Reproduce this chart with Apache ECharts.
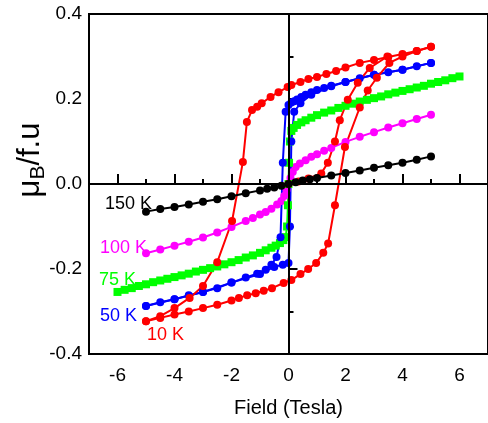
<!DOCTYPE html>
<html lang="en">
  <head>
    <meta charset="UTF-8" />
    <title>hysteresis</title>
    <script src="https://cdn.jsdelivr.net/npm/echarts@6/dist/echarts.min.js"></script>
    <style>
      * {
        margin: 0;
        padding: 0;
      }
    </style>
  </head>
  <body>
    <div id="charts" style="width: 488px; height: 423px"></div>
    <script>
      // field (T), moment (muB/f.u)
      var k150 = [
        [-5, -0.065], [-4.5, -0.059], [-4, -0.054], [-3.5, -0.048], [-3, -0.042],
        [-2.5, -0.036], [-2, -0.029], [-1.5, -0.022], [-1, -0.015], [-0.75, -0.011],
        [-0.5, -0.008], [-0.25, -0.004], [0, 0], [0.25, 0.004], [0.5, 0.008],
        [0.75, 0.011], [1, 0.014], [1.5, 0.02], [2, 0.026], [2.5, 0.032],
        [3, 0.038], [3.5, 0.044], [4, 0.05], [4.5, 0.057], [5, 0.065],
      ];
      var k100 = [
        [-5, -0.163], [-4.5, -0.154], [-4, -0.145], [-3.5, -0.136], [-3, -0.126],
        [-2.5, -0.114], [-2, -0.101], [-1.5, -0.087], [-1.25, -0.08], [-1, -0.072],
        [-0.8, -0.066], [-0.6, -0.058], [-0.4, -0.048], [-0.25, -0.04], [-0.15, -0.028],
        [-0.07, -0.014], [0, 0], [0.07, 0.014], [0.15, 0.028], [0.25, 0.04],
        [0.4, 0.048], [0.6, 0.056], [0.8, 0.064], [1, 0.07], [1.25, 0.078],
        [1.5, 0.085], [2, 0.099], [2.5, 0.111], [3, 0.122], [3.5, 0.133],
        [4, 0.143], [4.5, 0.153], [5, 0.163],
      ];
      var k75 = [
        [-6, -0.254], [-5.75, -0.249], [-5.5, -0.245], [-5.25, -0.24], [-5, -0.236],
        [-4.75, -0.231], [-4.5, -0.227], [-4.25, -0.223], [-4, -0.219], [-3.75, -0.215],
        [-3.5, -0.211], [-3.25, -0.206], [-3, -0.202], [-2.75, -0.198], [-2.5, -0.194],
        [-2.25, -0.189], [-2, -0.184], [-1.75, -0.179], [-1.5, -0.173], [-1.25, -0.168],
        [-1, -0.162], [-0.8, -0.156], [-0.6, -0.15], [-0.45, -0.145], [-0.3, -0.139],
        [-0.18, -0.132], [-0.1, -0.125], [-0.05, -0.1], [-0.02, -0.05], [0, 0],
        [0.02, 0.05], [0.05, 0.1], [0.1, 0.125], [0.18, 0.132], [0.3, 0.139],
        [0.45, 0.145], [0.6, 0.15], [0.8, 0.156], [1, 0.162], [1.25, 0.168],
        [1.5, 0.173], [1.75, 0.179], [2, 0.184], [2.25, 0.189], [2.5, 0.194],
        [2.75, 0.198], [3, 0.202], [3.25, 0.206], [3.5, 0.211], [3.75, 0.215],
        [4, 0.219], [4.25, 0.223], [4.5, 0.227], [4.75, 0.231], [5, 0.236],
        [5.25, 0.24], [5.5, 0.244], [5.75, 0.249], [6, 0.253],
      ];
      var k50Down = [
        [5, 0.285], [4.5, 0.277], [4, 0.269], [3.5, 0.263], [3, 0.257],
        [2.5, 0.249], [2, 0.24], [1.5, 0.231], [1.25, 0.226], [1, 0.221],
        [0.8, 0.216], [0.6, 0.21], [0.45, 0.205], [0.3, 0.199], [0.2, 0.195],
        [0.1, 0.192], [0, 0.186], [-0.1, 0.17], [-0.2, 0.05], [-0.28, -0.125],
        [-0.42, -0.172], [-0.6, -0.19], [-0.8, -0.202], [-1.1, -0.211], [-1.5, -0.22],
        [-2, -0.232], [-2.5, -0.245], [-3, -0.254], [-3.5, -0.262], [-4, -0.271],
        [-4.5, -0.278], [-5, -0.287],
      ];
      var k50Up = [
        [-5, -0.287], [-4, -0.271], [-3, -0.254], [-2, -0.232], [-1, -0.212],
        [-0.5, -0.195], [-0.2, -0.19], [0, -0.186], [0.05, -0.1], [0.1, 0.1],
        [0.2, 0.17], [0.42, 0.19], [0.8, 0.21], [1.5, 0.23], [2, 0.24],
        [3, 0.257], [4, 0.269], [5, 0.285],
      ];
      var k10Down = [
        [5, 0.323], [4.5, 0.313], [4, 0.306], [3.5, 0.299], [3, 0.292],
        [2.5, 0.285], [2, 0.274], [1.67, 0.266], [1.33, 0.259], [1, 0.252],
        [0.7, 0.247], [0.42, 0.24], [0.1, 0.233], [-0.03, 0.228], [-0.35, 0.216],
        [-0.63, 0.205], [-0.94, 0.19], [-1.1, 0.182], [-1.28, 0.174], [-1.46, 0.146],
        [-1.6, 0.052], [-1.98, -0.087], [-2.5, -0.184], [-3, -0.24], [-3.47, -0.268],
        [-4, -0.292], [-4.5, -0.311], [-5, -0.323],
      ];
      var k10Up = [
        [-5, -0.323], [-4.5, -0.315], [-4, -0.307], [-3.5, -0.3], [-3, -0.292],
        [-2.5, -0.284], [-2, -0.274], [-1.74, -0.268], [-1.45, -0.262], [-1.15, -0.257],
        [-0.87, -0.251], [-0.58, -0.245], [-0.17, -0.233], [0.1, -0.226], [0.42, -0.212],
        [0.69, -0.2], [0.97, -0.186], [1.22, -0.162], [1.39, -0.14], [1.63, -0.05],
        [1.98, 0.087], [2.5, 0.18], [2.78, 0.22], [3.1, 0.25], [3.54, 0.285],
        [4, 0.3], [4.5, 0.313], [5, 0.323],
      ];
      var k10Virgin = [
        [0, 0], [0.35, 0.006], [0.7, 0.013], [1.15, 0.025], [1.38, 0.05],
        [1.63, 0.1], [1.8, 0.15], [2.08, 0.198], [2.43, 0.238], [2.85, 0.273],
        [3.47, 0.3],
      ];
      var xLabels = [-6, -4, -2, 0, 2, 4, 6];
      var yLabels = [-0.4, -0.2, 0, 0.2, 0.4];

      var myEcharts = echarts.init(document.getElementById("charts"));
      var font = "Liberation Sans";

      function line(data, color, symbol, size) {
        return {
          type: "line",
          data: data,
          xAxisIndex: 0,
          yAxisIndex: 0,
          symbol: symbol || "circle",
          symbolSize: size || 8,
          showSymbol: true,
          showAllSymbol: true,
          animation: false,
          lineStyle: { color: color, width: 2 },
          itemStyle: { color: color, borderWidth: 0 },
        };
      }

      var series = [
        line(k150, "#000000"),
        line(k100, "#ff00ff"),
        line(k75, "#00ff00", "rect", 8),
        line(k50Down, "#0000ff"),
        line(k50Up, "#0000ff"),
        line(k10Down, "#ff0000"),
        line(k10Up, "#ff0000"),
        line(k10Virgin, "#ff0000"),
      ];
      // zero lines through the origin
      series[0].markLine = {
        silent: true,
        symbol: "none",
        label: { show: false },
        animation: false,
        lineStyle: { color: "#000", width: 2, type: "solid" },
        data: [{ xAxis: 0 }, { yAxis: 0 }],
      };
      series[0].z = 5;

      function kText(txt, x, y, color) {
        return {
          type: "text",
          left: x,
          top: y,
          style: { text: txt, fill: color, font: "18px " + font },
        };
      }

      var options = {
        animation: false,
        grid: {
          left: 89,
          top: 14,
          right: -3,
          bottom: 69,
          show: true,
          borderColor: "#000",
          borderWidth: 2,
        },
        xAxis: [
          {
            type: "value",
            min: -7,
            max: 7,
            interval: 1,
            name: "Field (Tesla)",
            nameLocation: "middle",
            nameGap: 44,
            nameTextStyle: { color: "#000", fontSize: 20, fontFamily: font },
            axisLine: { lineStyle: { color: "#000", width: 2 } },
            axisTick: { inside: true, length: 10, customValues: xLabels, lineStyle: { color: "#000", width: 2 } },
            axisLabel: { customValues: xLabels, color: "#000", fontSize: 19, fontFamily: font, margin: 12 },
            splitLine: { show: false },
          },
          {
            type: "value",
            position: "bottom",
            min: -7,
            max: 7,
            interval: 1,
            axisLine: { show: false },
            axisTick: { inside: true, length: 5, lineStyle: { color: "#000", width: 2 } },
            axisLabel: { show: false },
            splitLine: { show: false },
          },
        ],
        yAxis: [
          {
            type: "value",
            min: -0.4,
            max: 0.4,
            interval: 0.1,
            axisLine: { show: true, lineStyle: { color: "#000", width: 2 } },
            axisTick: { inside: true, length: 9, customValues: yLabels, lineStyle: { color: "#000", width: 2 } },
            axisLabel: {
              customValues: yLabels,
              color: "#000",
              fontSize: 19,
              fontFamily: font,
              margin: 7,
              formatter: function (v) {
                return v.toFixed(1);
              },
            },
            splitLine: { show: false },
          },
          {
            type: "value",
            position: "left",
            min: -0.4,
            max: 0.4,
            interval: 0.1,
            axisLine: { show: false },
            axisTick: { inside: true, length: 5, lineStyle: { color: "#000", width: 2 } },
            axisLabel: { show: false },
            splitLine: { show: false },
          },
        ],
        graphic: [
          {
            type: "text",
            x: 30,
            y: 160,
            rotation: Math.PI / 2,
            style: {
              text: "{a|μ}{b|B}{a|/f.u}",
              align: "center",
              verticalAlign: "middle",
              fill: "#000",
              rich: {
                a: { fontSize: 31, fontFamily: font, fill: "#000" },
                b: { fontSize: 21, fontFamily: font, fill: "#000", padding: [16, 0, 0, 0] },
              },
            },
          },
          kText("150 K", 105, 195, "#000000"),
          kText("100 K", 100, 239, "#ff00ff"),
          kText("75 K", 99, 271, "#00ff00"),
          kText("50 K", 100, 307, "#0000ff"),
          kText("10 K", 147, 326, "#ff0000"),
        ],
        series: series,
      };
      myEcharts.setOption(options);
    </script>
  </body>
</html>
